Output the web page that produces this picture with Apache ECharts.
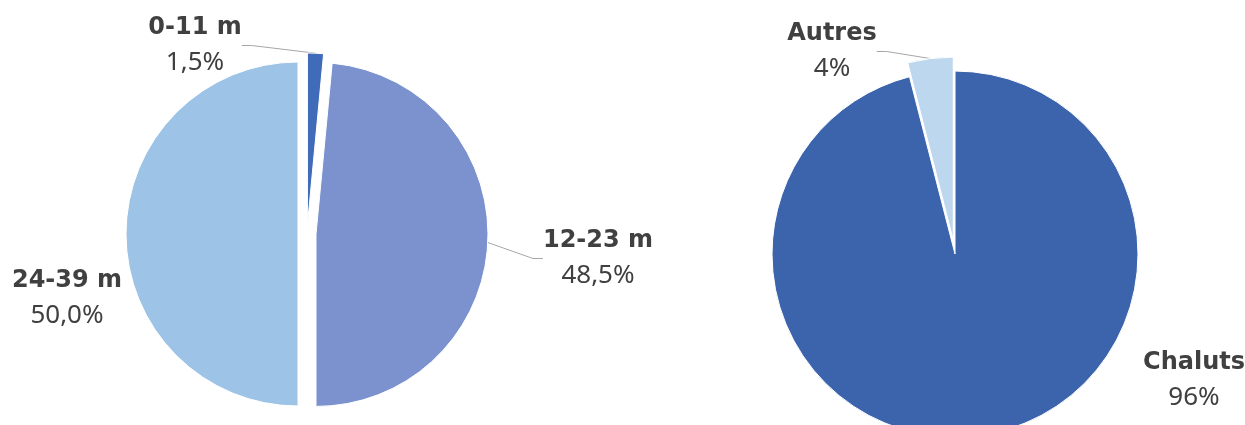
<!DOCTYPE html>
<html><head><meta charset="utf-8">
<script src="https://cdn.jsdelivr.net/npm/echarts@6/dist/echarts.min.js"></script>
<style>html,body{margin:0;padding:0;background:#fff}#c{width:1245px;height:425px}</style>
</head><body><div id="c"></div>
<script>
const lengthCats = ['0-11 m', '12-23 m', '24-39 m'];
const lengthVals = [1.5, 48.5, 50.0];
const gearCats = ['Chaluts', 'Autres'];
const gearVals = [96, 4];

const leftColors = ['#3f6bb9', '#7b92ce', '#9dc3e6'];
const rightColors = ['#3c64ad', '#bdd7ee'];
const leftLabelPos = [[195, 45], [598, 258], [67, 298]];
const rightLabelPos = [[1194, 380], [832, 51]];
const leftExplode = [9, 9, 9];
const rightExplode = [0, 14];
const leftLine = [true, true, false];
const rightLine = [false, true];

const rich = {
  n: {fontFamily: 'DejaVu Sans', fontWeight: 'bold', fontSize: 24, color: '#404040', lineHeight: 35},
  v: {fontFamily: 'Noto Sans', fontSize: 26, color: '#404040', lineHeight: 35}
};

function explodedSeries(cats, vals, colors, center, radius, explode, labelPos, lineShow, fmt) {
  const total = vals.reduce((a, b) => a + b, 0);
  let cum = 0;
  return cats.map((c, i) => {
    const mid = (cum + vals[i] / 2) / total * 2 * Math.PI;
    cum += vals[i];
    const d = explode[i];
    return {
      type: 'pie', radius: radius, startAngle: 90, clockwise: true,
      center: [center[0] + d * Math.sin(mid), center[1] - d * Math.cos(mid)],
      silent: true, emphasis: {disabled: true},
      label: {formatter: fmt, rich: rich, overflow: 'none', width: 300},
      labelLine: {lineStyle: {color: '#a6a6a6', width: 1}, length: 10, length2: 10},
      labelLayout: p => p.dataIndex === i ? {x: labelPos[i][0], y: labelPos[i][1], align: 'center', verticalAlign: 'middle'} : {},
      data: cats.map((cc, j) => j === i ? {
        name: cc, value: vals[j],
        itemStyle: {color: colors[j], borderColor: '#fff', borderWidth: 1},
        label: {show: true}, labelLine: {show: lineShow[j]}
      } : {
        name: cc, value: vals[j],
        itemStyle: {color: 'rgba(0,0,0,0)', borderWidth: 0},
        label: {show: false}, labelLine: {show: false}
      })
    };
  });
}

const chart = echarts.init(document.getElementById('c'));
chart.setOption({
  animation: false,
  series: [].concat(
    explodedSeries(lengthCats, lengthVals, leftColors, [307, 234], 172, leftExplode, leftLabelPos, leftLine,
      p => '{n|' + p.name + '}\n{v|' + p.value.toFixed(1).replace('.', ',') + '%}'),
    explodedSeries(gearCats, gearVals, rightColors, [955, 254], 183, rightExplode, rightLabelPos, rightLine,
      p => '{n|' + p.name + '}\n{v|' + p.value + '%}')
  )
});
</script></body></html>
